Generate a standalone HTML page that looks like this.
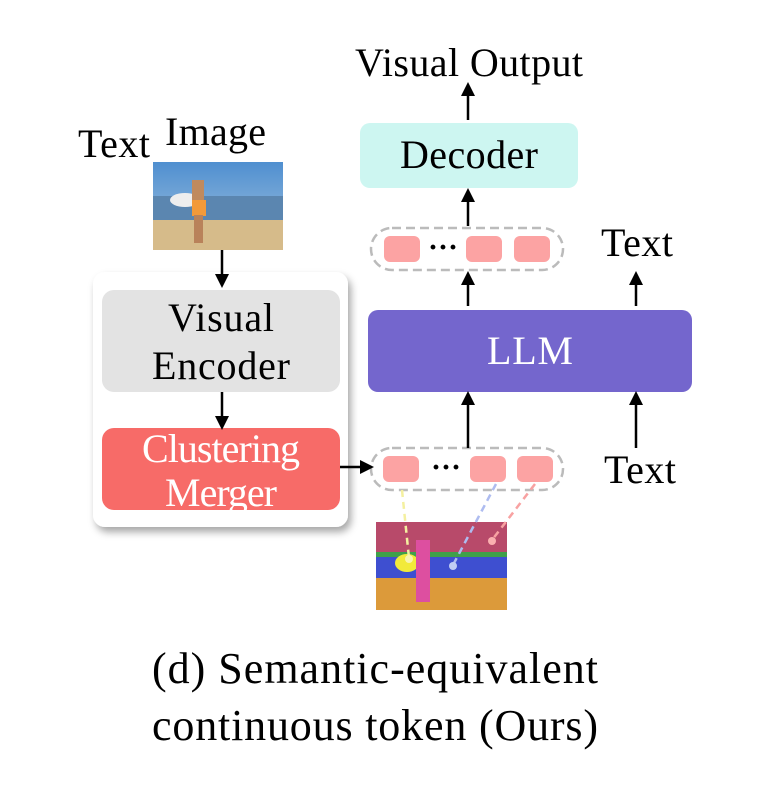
<!DOCTYPE html>
<html><head><style>
html,body{margin:0;padding:0;background:#fff;}
svg{display:block;font-family:"Liberation Serif",serif;}
</style></head><body>
<svg width="777" height="788" viewBox="0 0 777 788" xmlns="http://www.w3.org/2000/svg">
<defs>
<marker id="ah" markerWidth="14" markerHeight="14" refX="10" refY="7" orient="auto" markerUnits="userSpaceOnUse">
<path d="M0,0 L14,7 L0,14 Z" fill="#000"/></marker>
<filter id="sh" x="-10%" y="-10%" width="130%" height="130%"><feDropShadow dx="3" dy="5" stdDeviation="4" flood-color="#000" flood-opacity="0.35"/></filter>
<linearGradient id="sky" x1="0" y1="0" x2="0" y2="1"><stop offset="0" stop-color="#4f8fd0"/><stop offset="1" stop-color="#a9c6e0"/></linearGradient>
</defs>
<text x="469" y="76" font-size="40" text-anchor="middle" textLength="228">Visual Output</text>
<rect x="360" y="123" width="218" height="65" rx="10" fill="#cdf6f1"/>
<text x="469" y="168" font-size="40" text-anchor="middle" textLength="138">Decoder</text>
<rect x="371" y="228" width="192" height="42" rx="21" fill="none" stroke="#bbb" stroke-width="2.5" stroke-dasharray="9,5"/>
<g fill="#fca3a3">
<rect x="384" y="236" width="36" height="26" rx="6"/><rect x="466" y="236" width="36" height="26" rx="6"/><rect x="514" y="236" width="36" height="26" rx="6"/>
</g>
<text x="443" y="257" font-size="30" text-anchor="middle" font-weight="bold">···</text>
<text x="637" y="256" font-size="40" text-anchor="middle" textLength="72">Text</text>
<rect x="368" y="310" width="324" height="82" rx="10" fill="#7466cd"/>
<text x="530" y="364" font-size="40" fill="#fff" text-anchor="middle" textLength="86">LLM</text>
<text x="640" y="483" font-size="40" text-anchor="middle" textLength="72">Text</text>
<rect x="371" y="448" width="192" height="42" rx="21" fill="none" stroke="#bbb" stroke-width="2.5" stroke-dasharray="9,5"/>
<g fill="#fca3a3">
<rect x="383" y="456" width="36" height="26" rx="6"/><rect x="470" y="456" width="36" height="26" rx="6"/><rect x="517" y="456" width="36" height="26" rx="6"/>
</g>
<text x="446" y="477" font-size="30" text-anchor="middle" font-weight="bold">···</text>
<!-- left panel -->
<rect x="93" y="272" width="255" height="255" rx="12" fill="#fff" filter="url(#sh)"/>
<rect x="102" y="290" width="238" height="102" rx="12" fill="#e3e3e3"/>
<text x="221" y="331" font-size="40" text-anchor="middle" textLength="106">Visual</text>
<text x="221" y="379" font-size="40" text-anchor="middle" textLength="138">Encoder</text>
<rect x="102" y="428" width="238" height="82" rx="12" fill="#f76b68"/>
<text x="221" y="462" font-size="40" fill="#fff" text-anchor="middle" textLength="158">Clustering</text>
<text x="221" y="506" font-size="40" fill="#fff" text-anchor="middle" textLength="112">Merger</text>
<text x="78" y="157" font-size="40" textLength="72">Text</text>
<text x="165" y="145" font-size="40" textLength="101">Image</text>
<g stroke="#000" stroke-width="2.5" fill="none">
<line x1="468" y1="120" x2="468" y2="86" marker-end="url(#ah)"/>
<line x1="468" y1="226" x2="468" y2="192" marker-end="url(#ah)"/>
<line x1="468" y1="306" x2="468" y2="275" marker-end="url(#ah)"/>
<line x1="636" y1="306" x2="636" y2="275" marker-end="url(#ah)"/>
<line x1="468" y1="448" x2="468" y2="395" marker-end="url(#ah)"/>
<line x1="636" y1="448" x2="636" y2="395" marker-end="url(#ah)"/>
<line x1="222" y1="250" x2="222" y2="284" marker-end="url(#ah)"/>
<line x1="222" y1="392" x2="222" y2="426" marker-end="url(#ah)"/>
<line x1="340" y1="467" x2="370" y2="467" marker-end="url(#ah)"/>
</g>
<!-- top image -->
<rect x="153" y="162" width="130" height="88" fill="url(#sky)"/>
<rect x="153" y="196" width="130" height="28" fill="#5b86b0"/>
<rect x="153" y="220" width="130" height="30" fill="#d6bb8a"/>
<ellipse cx="185" cy="200" rx="15" ry="7" fill="#eee"/>
<rect x="192" y="180" width="12" height="22" fill="#c08a5e"/>
<rect x="192" y="200" width="14" height="16" fill="#f39a3a"/>
<rect x="194" y="215" width="9" height="28" fill="#b9825a"/>
<!-- bottom image -->
<rect x="376" y="522" width="131" height="88" fill="#b84a6a"/>
<rect x="376" y="554" width="131" height="26" fill="#3e4fd0"/>
<rect x="376" y="552" width="131" height="5" fill="#3fa04a"/>
<rect x="376" y="578" width="131" height="32" fill="#dc9a3a"/>
<ellipse cx="407" cy="563" rx="12" ry="9" fill="#f2ea3a"/>
<rect x="416" y="540" width="14" height="62" fill="#dd4fa0"/>
<g stroke-width="2.5" stroke-dasharray="7,5" fill="none">
<line x1="402" y1="490" x2="409" y2="558" stroke="#f4f0a0"/>
<line x1="496" y1="484" x2="453" y2="565" stroke="#aebcf0"/>
<line x1="535" y1="484" x2="492" y2="540" stroke="#f8a2a2"/>
</g>
<circle cx="409" cy="559" r="4" fill="#f8f4b0"/>
<circle cx="453" cy="566" r="4" fill="#c0cdf4"/>
<circle cx="492" cy="541" r="4" fill="#fbb0b0"/>
<text x="375" y="683" font-size="44" text-anchor="middle" textLength="446">(d) Semantic-equivalent</text>
<text x="375" y="740" font-size="44" text-anchor="middle" textLength="446">continuous token (Ours)</text>
</svg>
</body></html>
